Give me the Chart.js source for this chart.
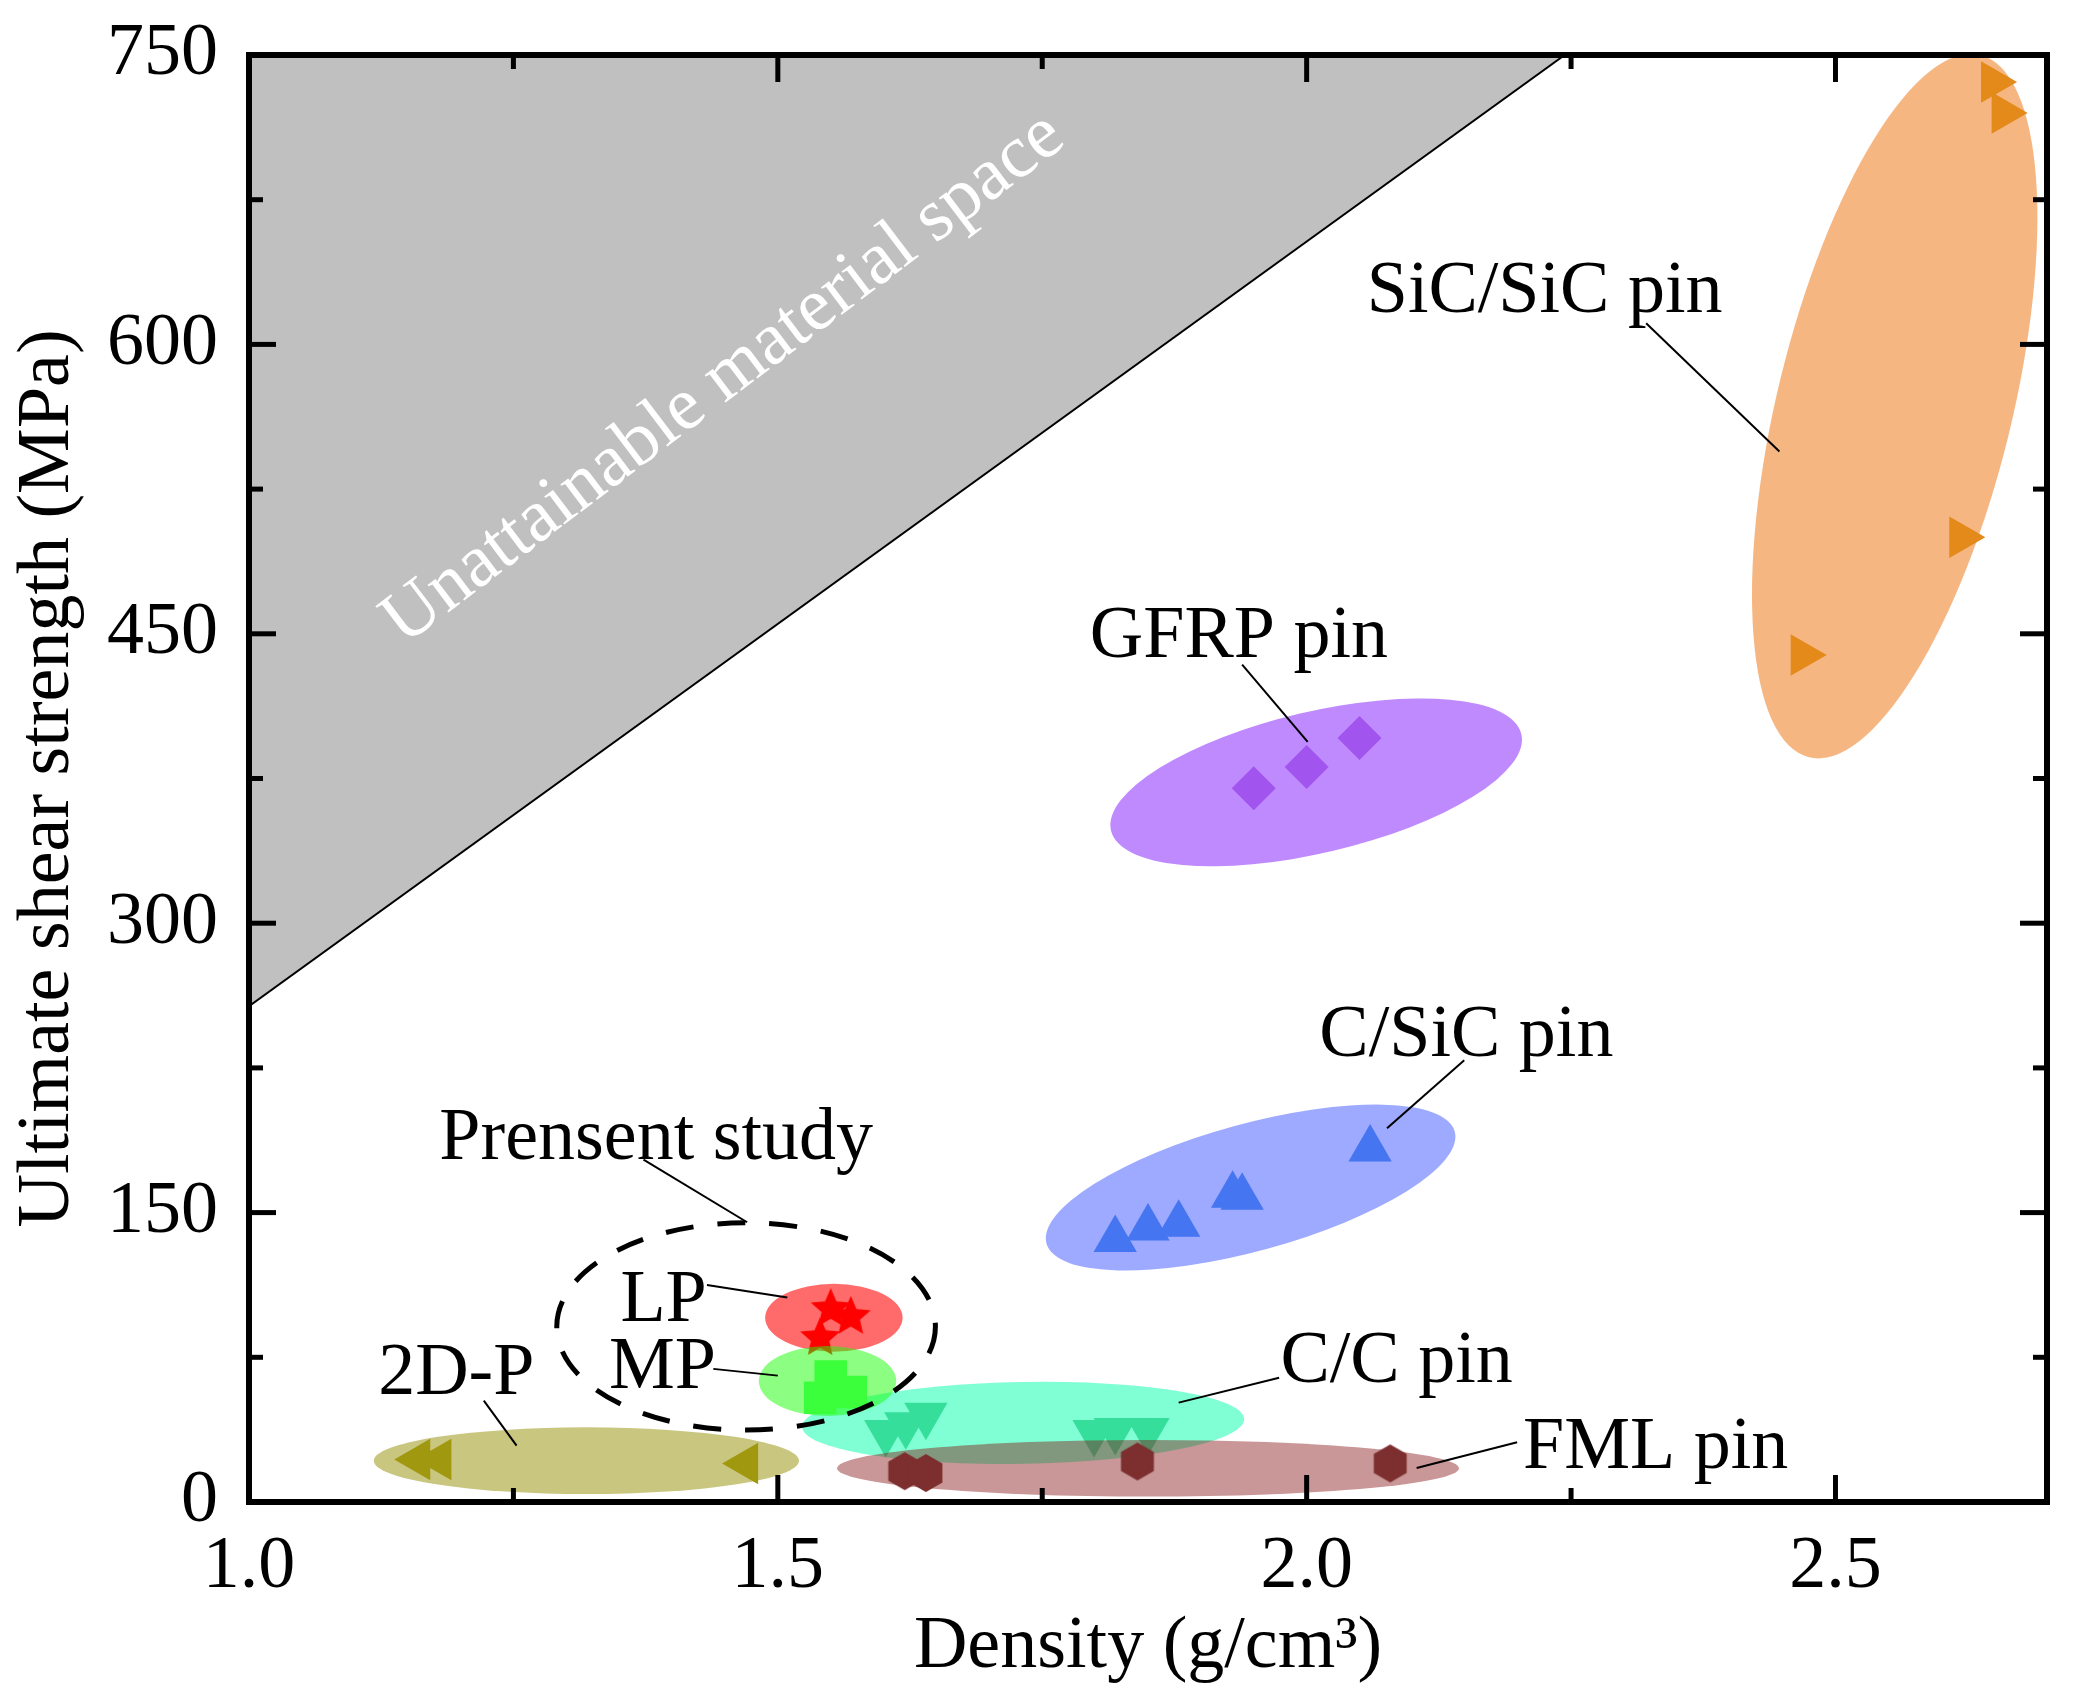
<!DOCTYPE html>
<html lang="en">
<head>
<meta charset="UTF-8">
<title>Ultimate shear strength vs density</title>
<style>
  html, body { margin: 0; padding: 0; background: #fff; }
  #chart { display: block; }
</style>
</head>
<body>
<canvas id="chart" width="2073" height="1702"></canvas>
<script src="https://cdn.jsdelivr.net/npm/chart.js"></script>
<script>
// ---- axis ticks ----
const xTicks = [1.0, 1.5, 2.0, 2.5];
const xMinorTicks = [1.25, 1.75, 2.25];
const yTicks = [0, 150, 300, 450, 600, 750];
const yMinorTicks = [75, 225, 375, 525, 675];

// ---- series (density g/cm3, shear strength MPa) ----
const sicX = [2.649, 2.659, 2.619, 2.469];
const sicY = [736, 720, 500, 439];
const gfrpX = [1.950, 2.000, 2.050];
const gfrpY = [370, 381, 396];
const csicX = [1.819, 1.850, 1.879, 1.930, 1.939, 2.060];
const csicY = [136, 142, 144, 159, 158, 183];
const ccX = [1.602, 1.621, 1.640, 1.799, 1.819, 1.850];
const ccY = [36, 40, 45, 36, 37, 37];
const fmlX = [1.620, 1.640, 1.840, 2.079];
const fmlY = [16, 15, 21, 20];
const d2pX = [1.160, 1.180, 1.470];
const d2pY = [22, 22, 20];
const lpX = [1.550, 1.569, 1.540];
const lpY = [100, 96, 85];
const mpX = [1.550, 1.569, 1.540];
const mpY = [65, 57, 54];

// limit line of the unattainable region
const limitX = [1.0, 2.244];
const limitY = [257, 750];

// cluster regions: [centre x, centre y, end of long half-axis x, y, short/long ratio]
const sicRegion = [2.556, 568, 2.637, 750, 0.325];
const gfrpRegion = [2.009, 373, 2.203, 398, 0.335];
const csicRegion = [1.947, 163, 2.140, 192, 0.30];
const ccRegion = [1.732, 41, 1.941, 43, 0.185];
const fmlRegion = [1.850, 17.5, 2.144, 17.5, 0.091];
const d2pRegion = [1.319, 21.4, 1.520, 21.4, 0.157];
const lpRegion = [1.553, 95.5, 1.618, 95.5, 0.493];
const mpRegion = [1.547, 62.7, 1.612, 62.7, 0.508];
const studyRegion = [1.470, 91, 1.649, 91, 0.5475];

// labels: text, x, y (baseline centre) and leader line from / to
const labelText = ['SiC/SiC pin', 'GFRP pin', 'C/SiC pin', 'C/C pin', 'FML pin', 'Prensent study', 'LP', 'MP', '2D-P'];
const labelX = [2.225, 1.936, 2.151, 2.085, 2.330, 1.385, 1.392, 1.391, 1.196];
const labelY = [617, 438, 231, 62, 17.6, 178, 94, 59, 56];
const leaderX1 = [2.321, 1.939, 2.149, 1.974, 2.199, 1.373, 1.433, 1.439, 1.222];
const leaderY1 = [611, 434, 229, 64.4, 31, 177.5, 112.5, 69, 52.5];
const leaderX2 = [2.447, 2.001, 2.076, 1.879, 2.104, 1.471, 1.509, 1.500, 1.253];
const leaderY2 = [544.5, 394, 193.7, 51.5, 17.6, 145, 106, 65.5, 29.2];

const FONT = '"Liberation Serif", "Times New Roman", serif';

function pts(xs, ys) { return xs.map((x, i) => ({x: x, y: ys[i]})); }

// filled star and hexagon marker images
function starImage(R, color) {
    const c = document.createElement('canvas');
    const s = Math.ceil(2 * R + 4);
    c.width = c.height = s;
    const g = c.getContext('2d');
    g.translate(s / 2, s / 2);
    g.beginPath();
    for (let i = 0; i < 10; i++) {
        const r = i % 2 === 0 ? R : R * 0.46;
        const a = -Math.PI / 2 + i * Math.PI / 5;
        g.lineTo(r * Math.cos(a), r * Math.sin(a));
    }
    g.closePath();
    g.fillStyle = color;
    g.fill();
    return c;
}
function hexImage(R, color) {
    const c = document.createElement('canvas');
    const s = Math.ceil(2 * R + 4);
    c.width = c.height = s;
    const g = c.getContext('2d');
    g.translate(s / 2, s / 2);
    g.beginPath();
    for (let i = 0; i < 6; i++) {
        const a = -Math.PI / 2 + i * Math.PI / 3;
        g.lineTo(R * Math.cos(a), R * Math.sin(a));
    }
    g.closePath();
    g.fillStyle = color;
    g.fill();
    return c;
}

function ellipsePath(chart, e) {
    const sx = chart.scales.x, sy = chart.scales.y;
    const cx = sx.getPixelForValue(e[0]), cy = sy.getPixelForValue(e[1]);
    const tx = sx.getPixelForValue(e[2]), ty = sy.getPixelForValue(e[3]);
    const a = Math.hypot(tx - cx, ty - cy);
    const ctx = chart.ctx;
    ctx.beginPath();
    ctx.ellipse(cx, cy, a, a * e[4], Math.atan2(ty - cy, tx - cx), 0, Math.PI * 2);
}

function clipArea(chart) {
    const a = chart.chartArea;
    chart.ctx.beginPath();
    chart.ctx.rect(a.left, a.top, a.right - a.left, a.bottom - a.top);
    chart.ctx.clip();
}

const decor = {
    id: 'decor',
    beforeDatasetsDraw(chart) {
        const ctx = chart.ctx, sx = chart.scales.x, sy = chart.scales.y;
        ctx.save();
        clipArea(chart);
        // grey unattainable region
        const x1 = sx.getPixelForValue(limitX[0]), y1 = sy.getPixelForValue(limitY[0]);
        const x2 = sx.getPixelForValue(limitX[1]), y2 = sy.getPixelForValue(limitY[1]);
        ctx.beginPath();
        ctx.moveTo(x1, y1);
        ctx.lineTo(x1, y2);
        ctx.lineTo(x2, y2);
        ctx.closePath();
        ctx.fillStyle = '#c0c0c0';
        ctx.fill();
        ctx.beginPath();
        ctx.moveTo(x1, y1);
        ctx.lineTo(x2, y2);
        ctx.lineWidth = 2;
        ctx.strokeStyle = '#000';
        ctx.stroke();
        // rotated caption, a touch steeper than the limit line
        ctx.translate(sx.getPixelForValue(1.449), sy.getPixelForValue(582));
        ctx.rotate(Math.atan2(y2 - y1, x2 - x1) - 0.022);
        ctx.font = '75px ' + FONT;
        ctx.fillStyle = '#fff';
        ctx.textAlign = 'center';
        ctx.textBaseline = 'middle';
        ctx.fillText('Unattainable material space', 0, 0);
        ctx.restore();
    },
    beforeDatasetDraw(chart, args) {
        const ds = chart.data.datasets[args.index];
        if (!ds.region) return;
        const ctx = chart.ctx;
        ctx.save();
        clipArea(chart);
        ellipsePath(chart, ds.region);
        ctx.fillStyle = ds.regionColor;
        ctx.fill();
        ctx.restore();
    },
    afterDatasetsDraw(chart) {
        const ctx = chart.ctx, sx = chart.scales.x, sy = chart.scales.y;
        ctx.save();
        // dashed "present study" ring
        ellipsePath(chart, studyRegion);
        ctx.setLineDash([28, 24]);
        ctx.lineWidth = 5;
        ctx.strokeStyle = '#000';
        ctx.stroke();
        ctx.setLineDash([]);
        // leaders and labels
        ctx.lineWidth = 2;
        ctx.font = '74px ' + FONT;
        ctx.fillStyle = '#000';
        ctx.textAlign = 'center';
        ctx.textBaseline = 'alphabetic';
        labelText.forEach((t, i) => {
            ctx.beginPath();
            ctx.moveTo(sx.getPixelForValue(leaderX1[i]), sy.getPixelForValue(leaderY1[i]));
            ctx.lineTo(sx.getPixelForValue(leaderX2[i]), sy.getPixelForValue(leaderY2[i]));
            ctx.stroke();
            ctx.fillText(t, sx.getPixelForValue(labelX[i]), sy.getPixelForValue(labelY[i]));
        });
        ctx.restore();
    },
    afterDraw(chart) {
        const ctx = chart.ctx, sx = chart.scales.x, sy = chart.scales.y;
        const {left, right, top, bottom} = chart.chartArea;
        ctx.save();
        ctx.strokeStyle = '#000';
        ctx.lineWidth = 5;
        const tick = (x1, y1, x2, y2) => { ctx.beginPath(); ctx.moveTo(x1, y1); ctx.lineTo(x2, y2); ctx.stroke(); };
        xTicks.forEach(v => { const x = sx.getPixelForValue(v); tick(x, bottom, x, bottom - 27); tick(x, top, x, top + 27); });
        xMinorTicks.forEach(v => { const x = sx.getPixelForValue(v); tick(x, bottom, x, bottom - 14); tick(x, top, x, top + 14); });
        yTicks.forEach(v => { const y = sy.getPixelForValue(v); tick(left, y, left + 27, y); tick(right, y, right - 27, y); });
        yMinorTicks.forEach(v => { const y = sy.getPixelForValue(v); tick(left, y, left + 14, y); tick(right, y, right - 14, y); });
        ctx.lineWidth = 6;
        ctx.strokeRect(left, top, right - left, bottom - top);
        ctx.restore();
    }
};

const ctx = document.getElementById('chart').getContext('2d');
new Chart(ctx, {
    type: 'scatter',
    data: {
        datasets: [
            { label: 'FML pin', data: pts(fmlX, fmlY), order: 1, region: fmlRegion, regionColor: 'rgba(133,19,19,0.44)',
              pointStyle: hexImage(19, '#7d2f30') },
            { label: 'MP', data: pts(mpX, mpY), order: 2, region: mpRegion, regionColor: 'rgba(25,255,5,0.5)',
              pointStyle: 'rect', pointRadius: 23, backgroundColor: '#3cff3c' },
            { label: 'C/C pin', data: pts(ccX, ccY), order: 3, region: ccRegion, regionColor: 'rgba(1,255,169,0.5)',
              pointStyle: 'triangle', pointRotation: 180, pointRadius: 25, backgroundColor: '#36de9b' },
            { label: 'LP', data: pts(lpX, lpY), order: 4, region: lpRegion, regionColor: 'rgba(255,0,0,0.58)',
              pointStyle: starImage(21, '#ff0000') },
            { label: '2D-P', data: pts(d2pX, d2pY), order: 5, region: d2pRegion, regionColor: 'rgba(147,141,0,0.5)',
              pointStyle: 'triangle', pointRotation: -90, pointRadius: 24, backgroundColor: '#a0980f' },
            { label: 'SiC/SiC pin', data: pts(sicX, sicY), order: 6, region: sicRegion, regionColor: 'rgba(235,109,5,0.5)',
              pointStyle: 'triangle', pointRotation: 90, pointRadius: 24, backgroundColor: '#e38a1a' },
            { label: 'GFRP pin', data: pts(gfrpX, gfrpY), order: 7, region: gfrpRegion, regionColor: 'rgba(129,21,255,0.5)',
              pointStyle: 'rectRot', pointRadius: 22, backgroundColor: '#a155ee' },
            { label: 'C/SiC pin', data: pts(csicX, csicY), order: 8, region: csicRegion, regionColor: 'rgba(59,85,255,0.5)',
              pointStyle: 'triangle', pointRadius: 25, backgroundColor: '#4575f0' }
        ]
    },
    options: {
        responsive: false,
        devicePixelRatio: 1,
        animation: false,
        layout: { padding: { top: 55, right: 26, left: 0, bottom: 0 } },
        elements: { point: { borderWidth: 0, hoverRadius: 0 } },
        plugins: { legend: { display: false }, tooltip: { enabled: false } },
        scales: {
            x: {
                type: 'linear', min: 1.0, max: 2.7,
                afterBuildTicks: s => { s.ticks = xTicks.map(v => ({value: v})); },
                afterFit: s => { s.height = 200; s.paddingLeft = 0; s.paddingRight = 0; },
                grid: { display: false, drawTicks: false },
                border: { display: false },
                ticks: { font: { family: FONT, size: 74 }, color: '#000', padding: 21, maxRotation: 0, autoSkip: false,
                         callback: v => Number(v).toFixed(1) },
                title: { display: true, text: 'Density (g/cm³)', font: { family: FONT, size: 74 }, color: '#000',
                         padding: { top: 0, bottom: 10 } }
            },
            y: {
                type: 'linear', min: 0, max: 750,
                afterBuildTicks: s => { s.ticks = yTicks.map(v => ({value: v})); },
                afterFit: s => { s.width = 249; s.paddingTop = 0; s.paddingBottom = 0; },
                grid: { display: false, drawTicks: false },
                border: { display: false },
                ticks: { font: { family: FONT, size: 74 }, color: '#000', padding: 31, autoSkip: false,
                         callback: v => String(v) },
                title: { display: true, text: 'Ultimate shear strength (MPa)', font: { family: FONT, size: 74 }, color: '#000',
                         padding: { top: 4, bottom: 0 } }
            }
        }
    },
    plugins: [decor]
});
</script>
</body>
</html>
